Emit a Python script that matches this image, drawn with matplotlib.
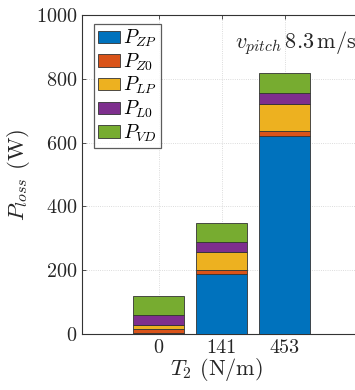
import numpy as np
import matplotlib
matplotlib.use('Agg')
from matplotlib import pyplot as plt

plt.rcParams['font.family'] = 'serif'
plt.rcParams['font.serif'] = ['cmr10', 'DejaVu Serif']
plt.rcParams['mathtext.fontset'] = 'cm'
plt.rcParams['axes.unicode_minus'] = False
plt.rcParams['axes.formatter.use_mathtext'] = True

# data (W)
tension = ['0', '141', '453']
p_zp = [2, 188, 622]
p_z0 = [15, 13, 15]
p_lp = [10, 56, 85]
p_l0 = [33, 31, 32]
p_vd = [60, 61, 64]
names = [r'$P_{ZP}$', r'$P_{Z0}$', r'$P_{LP}$', r'$P_{L0}$', r'$P_{VD}$']
colors = ['#0072BD', '#D95319', '#EDB120', '#7E2F8E', '#77AC30']

fig = plt.figure(figsize=(3.55, 3.9), dpi=100)
# the right part of the axes runs past the figure edge, as in the reference crop
ax = fig.add_axes([0.231, 0.1436, 0.95, 0.818])

x = np.arange(1, len(tension) + 1)
bottom = np.zeros(len(tension))
for vals, name, c in zip([p_zp, p_z0, p_lp, p_l0, p_vd], names, colors):
    ax.bar(x, vals, 0.8, bottom=bottom, color=c, edgecolor='#333333',
           linewidth=0.6, label=name, zorder=3)
    bottom += np.array(vals)

ax.set_xlim(-0.216, 5.14)
ax.set_ylim(0, 1000)
ax.set_xticks(x)
ax.set_xticklabels(tension)
ax.set_yticks([0, 200, 400, 600, 800, 1000])
ax.tick_params(direction='in', labelsize=14.5, top=True, right=False,
               length=3, width=0.6, color='#333333', labelcolor='#262626')
ax.grid(True, color='#d0d0d0', linestyle=':', linewidth=0.6, zorder=0)
for s in ax.spines.values():
    s.set_linewidth(0.8)
    s.set_color('#333333')
ax.spines['right'].set_visible(False)

ax.set_xlabel(r'$T_2$ (N/m)', fontsize=16, color='#262626')
ax.set_ylabel(r'$P_{loss}$ (W)', fontsize=16.5, labelpad=3, color='#262626')
ax.xaxis.set_label_coords(0.398, -0.068)

leg = ax.legend(loc='upper left', bbox_to_anchor=(0.0355, 0.972), fontsize=14,
                frameon=True, fancybox=False, edgecolor='#333333',
                handlelength=1.15, handleheight=0.6, handletextpad=0.15,
                labelspacing=0.12, borderpad=0.2, borderaxespad=0)
leg.get_frame().set_linewidth(0.9)

ax.text(0.4545, 0.912, r'$v_{pitch}\,8.3\,\mathrm{m/s}$', transform=ax.transAxes,
        ha='left', va='center', fontsize=16, color='#262626')

fig.savefig('out.png', dpi=100, facecolor='white')
